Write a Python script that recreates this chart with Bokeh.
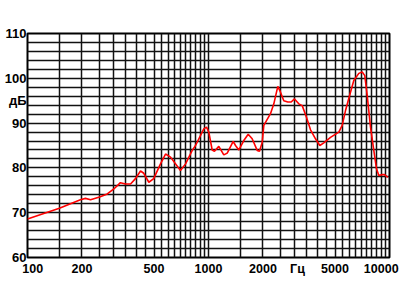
from bokeh.plotting import figure
from bokeh.models import Range1d, FixedTicker
from bokeh.embed import file_html
from bokeh.resources import INLINE

# Frequency response (Hz, dB)
freq = [100, 150, 196, 209, 223, 250, 276, 300, 326, 348, 371, 395, 421, 439,
        468, 498, 543, 579, 617, 700, 747, 813, 848, 942, 975, 1004, 1048,
        1079, 1140, 1215, 1269, 1369, 1410, 1471, 1567, 1657, 1743, 1858,
        1913, 1980, 2021, 2200, 2296, 2415, 2499, 2606, 2742, 2863, 2986,
        3154, 3294, 3478, 3661, 3901, 4120, 4335, 4721, 5248, 5479, 5714,
        6088, 6350, 6768, 7067, 7303, 7530, 7853, 8191, 8477, 8730, 9115,
        9384, 9786]
spl = [68.6, 71.0, 72.9, 73.2, 72.9, 73.5, 74.2, 75.3, 76.7, 76.4, 76.4, 77.6,
       79.3, 78.8, 76.8, 77.6, 80.9, 83.1, 82.4, 79.4, 80.9, 83.9, 85.0, 88.7,
       89.1, 88.0, 84.0, 83.7, 84.8, 82.9, 83.3, 85.9, 85.0, 84.0, 86.1, 87.5,
       86.5, 83.9, 83.7, 85.7, 89.5, 92.1, 94.3, 98.2, 96.9, 95.0, 94.7, 94.7,
       95.4, 94.3, 93.9, 91.3, 88.5, 86.5, 85.0, 85.6, 86.8, 88.0, 89.5, 92.8,
       96.9, 99.5, 101.1, 101.4, 100.6, 96.2, 89.1, 83.9, 79.8, 78.3, 78.5,
       78.5, 77.9]

# tick label positions (last label sits near the right edge, as in the reference)
x_ticks = [100, 200, 500, 1000, 2000, 5000, 9000]
x_tick_labels = ["100", "200", "500", "1000", "2000", "5000", "10000"]
y_ticks = [110, 100, 90, 80, 70, 60]
y_tick_labels = ["110", "100", "90", "80", "70", "60"]
x_grid = list(range(100, 1000, 50)) + list(range(1000, 10001, 500))
y_grid = list(range(60, 111, 2))
x_unit = "Гц"
x_unit_pos = 3100
y_unit = "дБ"
y_unit_pos = 95

NB = "\u00a0"
font = "Liberation Sans"

p = figure(width=400, height=300, x_axis_type="log",
           x_range=Range1d(100, 10000), y_range=Range1d(60, 110),
           toolbar_location=None, output_backend="svg",
           min_border_left=27, min_border_right=11,
           min_border_top=33, min_border_bottom=43)
p.background_fill_color = "white"
p.border_fill_color = "white"
p.outline_line_color = "black"
p.outline_line_width = 2

p.xgrid.ticker = FixedTicker(ticks=x_grid)
p.ygrid.ticker = FixedTicker(ticks=y_grid)
for g in (p.xgrid, p.ygrid):
    g.grid_line_color = "#111111"
    g.grid_line_width = 1.5
    g.grid_line_alpha = 1.0

# x axis labels (unit label sits among the tick labels as in the reference)
xl = dict(zip(x_ticks, x_tick_labels))
xl[100] = NB * 3 + "100"
xl[x_unit_pos] = x_unit
p.xaxis.ticker = FixedTicker(ticks=x_ticks + [x_unit_pos])
p.xaxis.major_label_overrides = xl

yl = dict(zip(y_ticks, y_tick_labels))
yl[y_unit_pos] = y_unit
p.yaxis.ticker = FixedTicker(ticks=y_ticks + [y_unit_pos])
p.yaxis.major_label_overrides = yl

for ax in (p.xaxis, p.yaxis):
    ax.axis_line_color = None
    ax.major_tick_line_color = None
    ax.minor_tick_line_color = None
    ax.major_tick_out = 0
    ax.major_tick_in = 0
    ax.major_label_text_font = font
    ax.major_label_text_font_style = "bold"
    ax.major_label_text_color = "black"
p.xaxis.major_label_text_font_size = "12.5px"
p.yaxis.major_label_text_font_size = "13px"
p.xaxis.major_label_standoff = 4
p.yaxis.major_label_standoff = 1

p.line(freq, spl, line_color="red", line_width=1.6)

open("out.html", "w").write(file_html(p, INLINE))
